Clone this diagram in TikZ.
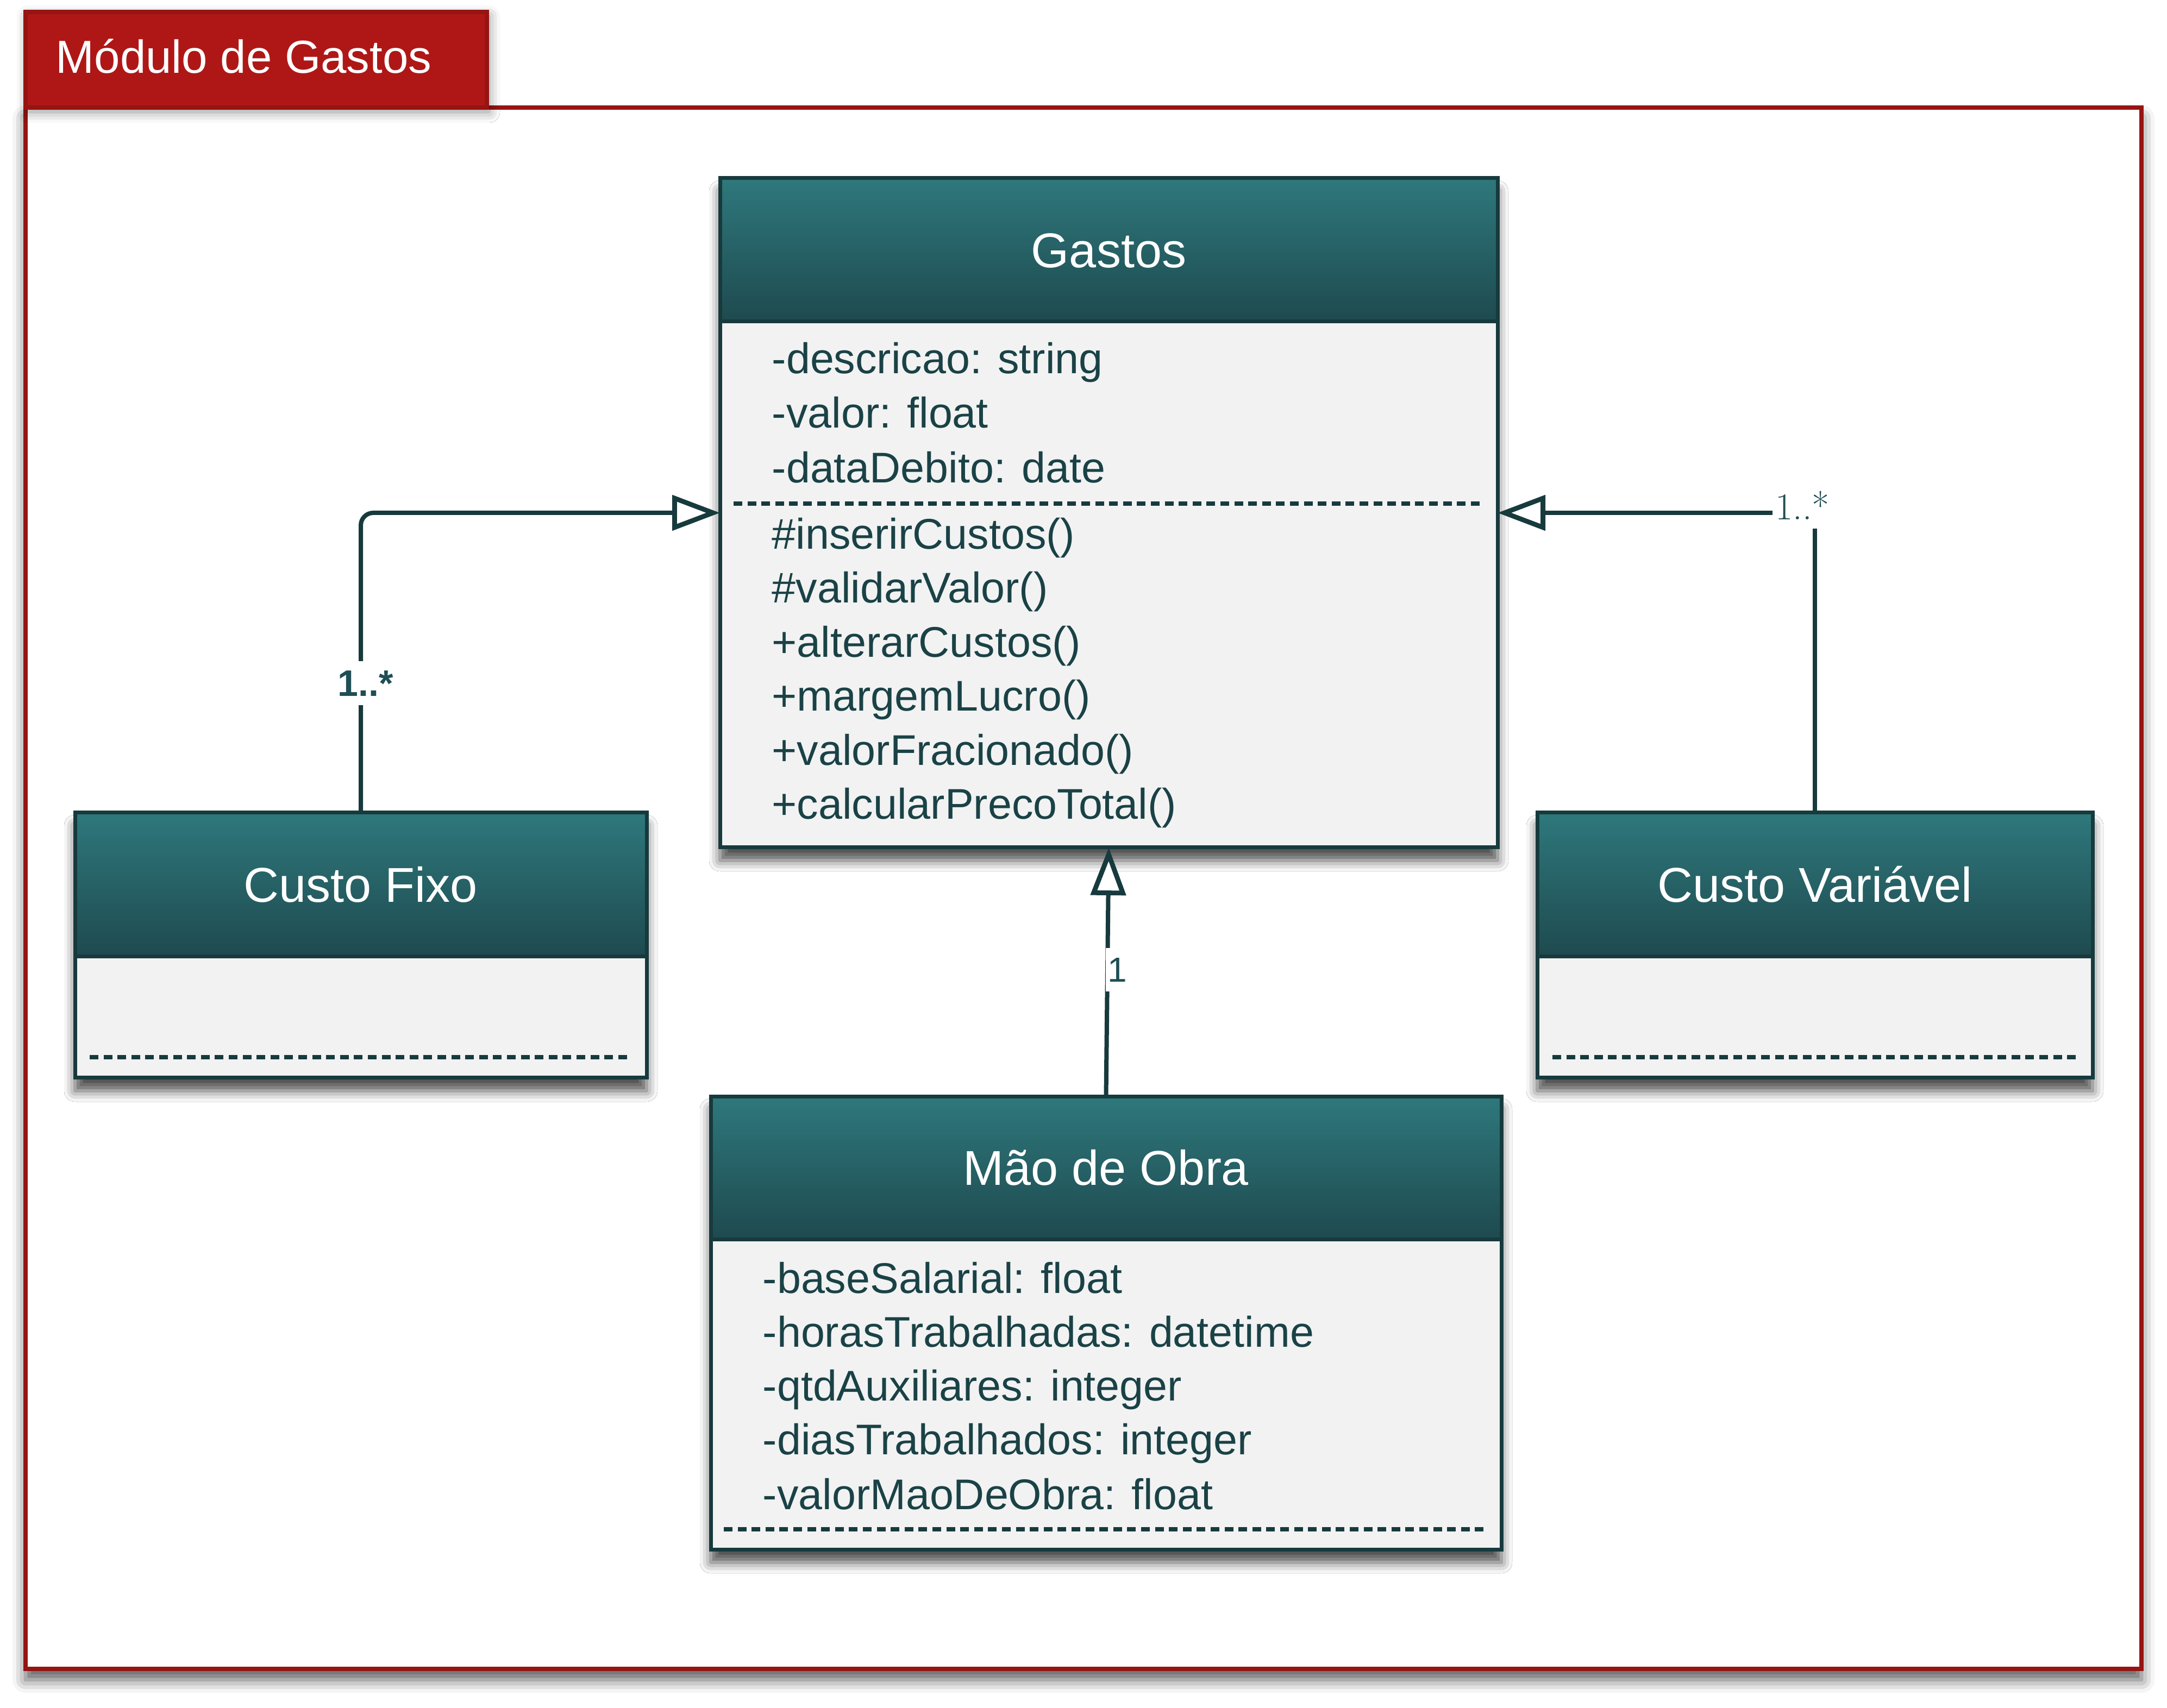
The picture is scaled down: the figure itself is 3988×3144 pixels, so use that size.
\documentclass[tikz,border=0pt]{standalone}
\usepackage{fontspec}
\usetikzlibrary{arrows.meta,shadows.blur}
\newfontfamily\sansf{Liberation Sans}
\definecolor{hdtop}{RGB}{46,120,124}
\definecolor{hdbot}{RGB}{30,74,79}
\definecolor{bord}{RGB}{23,58,61}
\definecolor{bodyfill}{RGB}{242,242,242}
\definecolor{txt}{RGB}{26,66,70}
\definecolor{lbl}{RGB}{30,79,84}
\definecolor{redfill}{RGB}{175,23,23}
\definecolor{redline}{RGB}{150,20,18}
\tikzset{
  softshadow/.style={blur shadow={shadow xshift=0pt, shadow yshift=-6pt, shadow blur radius=5pt, shadow opacity=70}},
  classbg/.style={draw=bord, line width=1.75pt, fill=bodyfill, inner sep=0pt, outer sep=0pt, anchor=north west, softshadow},
  classhd/.style={draw=bord, line width=1.75pt, top color=hdtop, bottom color=hdbot, inner sep=0pt, outer sep=0pt, anchor=north west, text=white, text height=16.1pt, text depth=0pt, font=\sansf\fontsize{22.5}{27}\selectfont},
  member/.style={anchor=base west, inner sep=0pt, text=txt, font=\sansf\fontsize{19.75}{24}\selectfont},
  sepline/.style={draw=bord, line width=1.9pt, dash pattern=on 4pt off 2.4pt},
  conn/.style={draw=bord, line width=2pt, -{Triangle[length=22pt,width=16pt,fill=white,line width=2.2pt]}},
  mult/.style={fill=white, text=lbl, inner sep=0pt, outer sep=0pt},
  modframe/.style={draw=redline, line width=2pt, fill=white, inner sep=0pt, outer sep=0pt, anchor=north west, blur shadow={shadow xshift=0pt, shadow yshift=-5pt, shadow blur radius=6pt, shadow opacity=65}},
  modtab/.style={draw=redline, line width=2pt, fill=redfill, inner sep=0pt, outer sep=0pt, anchor=north west, blur shadow={shadow xshift=1pt, shadow yshift=-2pt, shadow blur radius=5pt, shadow opacity=45}},
}
\begin{document}
\begin{tikzpicture}[x=0.25pt,y=-0.25pt]
\useasboundingbox (0,0) rectangle (3988,3144);

% module frame and tab
\node[modframe, minimum width={(3941-47)*0.25pt}, minimum height={(3072-198)*0.25pt}] (frame) at (47,198) {};
\node[modtab, minimum width={(896-47)*0.25pt}, minimum height={(198-22)*0.25pt}] (tab) at (47,22) {};
\node[anchor=base west, inner sep=0pt, text=white, font=\sansf\fontsize{21.3}{25}\selectfont] (tabtext) at (102,135) {Módulo de Gastos};

% Gastos
\node[classbg, minimum width={(2756-1325)*0.25pt}, minimum height={(1560-328)*0.25pt}] (g) at (1325,328) {};
\node[classhd, minimum width={(2756-1325)*0.25pt}, minimum height={(592-328)*0.25pt}] (g-h) at (1325,328) {Gastos};
\draw[sepline] (1350,927) -- (2731,927);
\node[member] (g-a1) at (1420,688) {-descricao: string};
\node[member] (g-a2) at (1420,788) {-valor: float};
\node[member] (g-a3) at (1420,889) {-dataDebito: date};
\node[member] (g-m1) at (1420,1011) {\#inserirCustos()};
\node[member] (g-m2) at (1420,1110) {\#validarValor()};
\node[member] (g-m3) at (1420,1210) {+alterarCustos()};
\node[member] (g-m4) at (1420,1309) {+margemLucro()};
\node[member] (g-m5) at (1420,1409) {+valorFracionado()};
\node[member] (g-m6) at (1420,1508) {+calcularPrecoTotal()};

% Custo Fixo
\node[classbg, minimum width={(1190-138)*0.25pt}, minimum height={(1984-1496)*0.25pt}] (cf) at (138,1496) {};
\node[classhd, minimum width={(1190-138)*0.25pt}, minimum height={(1761-1496)*0.25pt}] (cf-h) at (138,1496) {Custo Fixo};
\draw[sepline] (165,1946) -- (1163,1946);

% Custo Variavel
\node[classbg, minimum width={(3851-2829)*0.25pt}, minimum height={(1984-1496)*0.25pt}] (cv) at (2829,1496) {};
\node[classhd, minimum width={(3851-2829)*0.25pt}, minimum height={(1761-1496)*0.25pt}] (cv-h) at (2829,1496) {Custo Variável};
\draw[sepline] (2857,1946) -- (3823,1946);

% Mao de Obra
\node[classbg, minimum width={(2763-1308)*0.25pt}, minimum height={(2852-2018)*0.25pt}] (mo) at (1308,2018) {};
\node[classhd, minimum width={(2763-1308)*0.25pt}, minimum height={(2281-2018)*0.25pt}] (mo-h) at (1308,2018) {Mão de Obra};
\draw[sepline] (1332,2815) -- (2735,2815);
\node[member] (mo-a1) at (1403,2380) {-baseSalarial: float};
\node[member] (mo-a2) at (1403,2479) {-horasTrabalhadas: datetime};
\node[member] (mo-a3) at (1403,2578) {-qtdAuxiliares: integer};
\node[member] (mo-a4) at (1403,2677) {-diasTrabalhados: integer};
\node[member] (mo-a5) at (1403,2778) {-valorMaoDeObra: float};

% connectors
\draw[conn, rounded corners=5.75pt] (cf.north) |- (g.west);
\draw[conn] (cv.north) |- (g.east);
\draw[conn] (mo.north) -- (g.south);

% multiplicities
\node[mult, font=\sansf\bfseries\fontsize{17}{20}\selectfont, minimum width=27.5pt, minimum height=20.25pt] (m-cf) at (673,1258) {1..*};
\node[mult, font=\fontsize{17.5}{20}\selectfont, minimum width=27.5pt, minimum height=21.5pt] (m-cv) at (3317,930) {1..*};
\node[mult, font=\sansf\fontsize{16}{19}\selectfont, minimum width=10.75pt, minimum height=20pt] (m-mo) at (2056,1785) {1};
\end{tikzpicture}
\end{document}
